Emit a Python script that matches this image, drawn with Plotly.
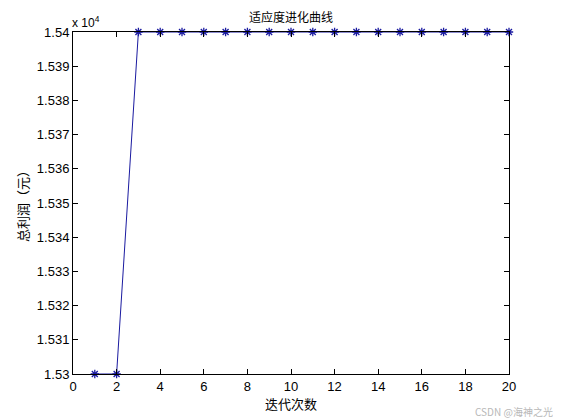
import plotly.graph_objects as go

# fitness evolution data (total profit per generation)
generations = list(range(1, 21))
profit = [15300, 15300] + [15400] * 18

y_ticks = [15300 + 10 * i for i in range(11)]
y_labels = ["1.53", "1.531", "1.532", "1.533", "1.534", "1.535",
            "1.536", "1.537", "1.538", "1.539", "1.54"]
x_ticks = list(range(0, 21, 2))

font_sans = "Liberation Sans, Arial, sans-serif"
font_cjk = "Noto Sans CJK SC, sans-serif"

fig = go.Figure()
fig.add_trace(
    go.Scatter(
        x=generations,
        y=profit,
        mode="lines+markers",
        line=dict(color="#1a1aa0", width=1),
        marker=dict(symbol="asterisk-open", size=7,
                    line=dict(color="#101080", width=1.3)),
        showlegend=False,
        cliponaxis=False,
    )
)

axis_common = dict(
    showgrid=False,
    zeroline=False,
    showline=True,
    linecolor="black",
    linewidth=1,
    mirror="ticks",
    ticks="inside",
    ticklen=5,
    tickcolor="black",
    tickfont=dict(family=font_sans, size=13, color="black"),
)

fig.update_xaxes(range=[0, 20], tickvals=x_ticks, **axis_common)
fig.update_yaxes(range=[15300, 15400], tickvals=y_ticks,
                 ticktext=y_labels, **axis_common)

# page body adds an 8px margin, so the figure is sized to fit the window
fig.update_layout(
    width=553,
    height=412,
    margin=dict(l=65, r=52, t=24, b=46),
    paper_bgcolor="white",
    plot_bgcolor="white",
    xaxis_title=dict(text="迭代次数", standoff=2,
                     font=dict(family=font_cjk, size=13, color="black")),
    yaxis_title=dict(text="总利润（元）", standoff=5,
                     font=dict(family=font_cjk, size=13, color="black")),
    annotations=[
        # title drawn as annotation so it sits close to the top edge
        dict(text="适应度进化曲线", x=0.5, y=1, xref="paper", yref="paper",
             xanchor="center", yanchor="middle", yshift=16, showarrow=False,
             font=dict(family=font_cjk, size=12, color="black")),
        dict(text="x 10<sup>4</sup>", x=0, y=1, xref="paper", yref="paper",
             xanchor="left", yanchor="bottom", showarrow=False, xshift=-3,
             font=dict(family=font_sans, size=12, color="black")),
        dict(text="CSDN @海神之光", x=1.0, y=0, xref="paper", yref="paper",
             xanchor="right", yanchor="top", xshift=46, yshift=-28,
             showarrow=False,
             font=dict(family=font_cjk, size=10, color="#b8b8b8")),
    ],
)

fig.write_html("out.html")
